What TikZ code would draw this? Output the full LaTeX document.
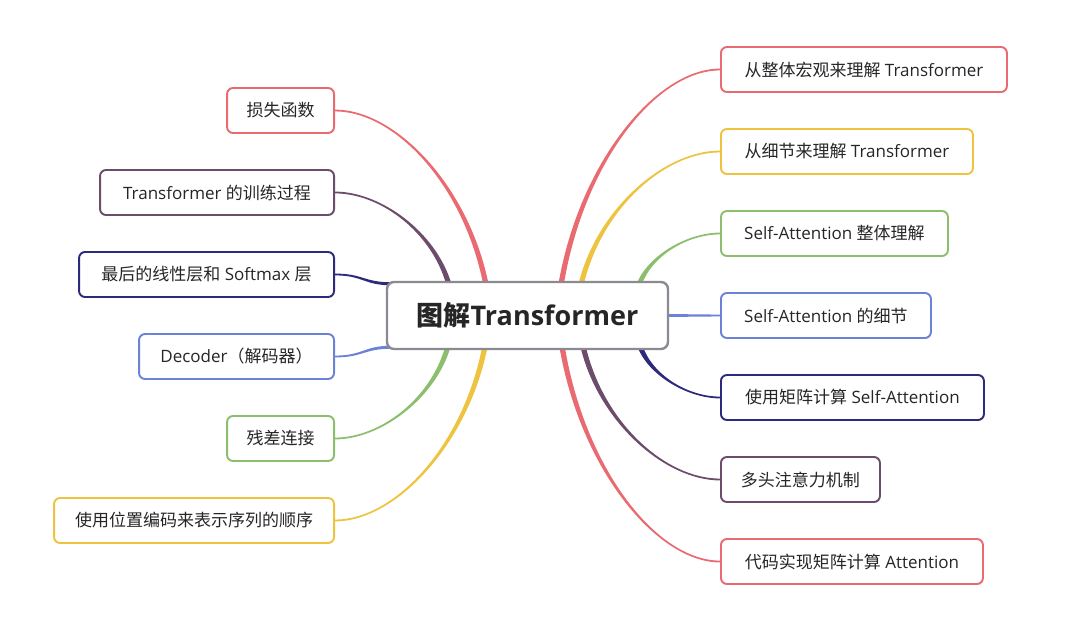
\documentclass[tikz,border=0pt]{standalone}
\usepackage{fontspec}
\setmainfont{Open Sans}
\newfontfamily\cjk{Noto Sans CJK SC}
\usetikzlibrary{calc}
\pgfdeclarelayer{bg}
\pgfsetlayers{bg,main}
\definecolor{cred}{HTML}{E96A70}
\definecolor{cyellow}{HTML}{EDC340}
\definecolor{cgreen}{HTML}{8CBF6D}
\definecolor{cblue}{HTML}{6C82D9}
\definecolor{cnavy}{HTML}{2D2A7C}
\definecolor{cpurple}{HTML}{6D4B6B}
\definecolor{cgray}{HTML}{8A8A92}
\definecolor{txt}{HTML}{262626}
\newcommand\C[1]{{\cjk #1}}
% tapered branch leaving the centre vertically, arriving horizontally
\newcommand\branch[3]{%
  \fill[#3] let \p1=(#1), \p2=(#2), \n1={sign(\x2-\x1)}, \n2={sign(\y2-\y1)} in
   ({\x1-(\n1)*2.7pt},\y1)
   .. controls ({\x1+0.13*(\x2-\x1)-(\n1)*2.5pt},{\y1+0.57*(\y2-\y1)})
   and ({\x1+0.6*(\x2-\x1)},{\y2+(\n2)*0.9pt}) .. (\x2,{\y2+(\n2)*0.9pt})
   -- (\x2,{\y2-(\n2)*0.9pt})
   .. controls ({\x1+0.6*(\x2-\x1)},{\y2-(\n2)*0.9pt})
   and ({\x1+0.13*(\x2-\x1)+(\n1)*2.5pt},{\y1+0.57*(\y2-\y1)}) .. ({\x1+(\n1)*2.7pt},\y1)
   -- cycle;}
% slightly tapered branch leaving the centre horizontally
\newcommand\hbranch[3]{%
  \fill[#3] let \p1=(#1), \p2=(#2) in
   (\x1,{\y1+1.5pt})
   .. controls ({0.5*(\x1+\x2)},{\y1+1.5pt}) and ({0.5*(\x1+\x2)},{\y2+0.9pt}) .. (\x2,{\y2+0.9pt})
   -- (\x2,{\y2-0.9pt})
   .. controls ({0.5*(\x1+\x2)},{\y2-0.9pt}) and ({0.5*(\x1+\x2)},{\y1-1.5pt}) .. (\x1,{\y1-1.5pt})
   -- cycle;}
\begin{document}
\begin{tikzpicture}[x=1pt,y=-1pt,
  leaf/.style={draw=#1, line width=1.9pt, rounded corners=6pt, fill=white,
    minimum height=45pt, inner sep=0pt, text=txt, font=\fontsize{17}{20}\selectfont},
  hub/.style={draw=cgray, line width=2.4pt, rounded corners=7pt, fill=white,
    minimum width=281pt, minimum height=67pt, inner sep=0pt, text=txt,
    font=\fontsize{27}{32}\selectfont\bfseries}]
\useasboundingbox (0,0) rectangle (1080,635);

\node[hub] (c) at (527.5,315.5) {\C{图解}Transformer};

% right side
\node[leaf=cred,    minimum width=286pt, anchor=west] (r1) at (720,69.5)  {\C{从整体宏观来理解} Transformer};
\node[leaf=cyellow, minimum width=252pt, anchor=west] (r2) at (720,151.5) {\C{从细节来理解} Transformer};
\node[leaf=cgreen,  minimum width=227pt, anchor=west] (r3) at (720,233.5) {Self-Attention \C{整体理解}};
\node[leaf=cblue,   minimum width=210pt, anchor=west] (r4) at (720,315.5) {Self-Attention \C{的细节}};
\node[leaf=cnavy,   minimum width=263pt, anchor=west] (r5) at (720,397.5) {\C{使用矩阵计算} Self-Attention};
\node[leaf=cpurple, minimum width=159pt, anchor=west] (r6) at (720,479.5) {\C{多头注意力机制}};
\node[leaf=cred,    minimum width=262pt, anchor=west] (r7) at (720,561.5) {\C{代码实现矩阵计算} Attention};

% left side
\node[leaf=cred,    minimum width=107pt, anchor=east] (l1) at (335,110.5) {\C{损失函数}};
\node[leaf=cpurple, minimum width=234pt, anchor=east] (l2) at (335,192.5) {Transformer \C{的训练过程}};
\node[leaf=cnavy,   minimum width=255pt, anchor=east] (l3) at (335,274.5) {\C{最后的线性层和} Softmax \C{层}};
\node[leaf=cblue,   minimum width=195pt, anchor=east] (l4) at (335,356.5) {Decoder\C{（解码器）}};
\node[leaf=cgreen,  minimum width=107pt, anchor=east] (l5) at (335,438.5) {\C{残差连接}};
\node[leaf=cyellow, minimum width=280pt, anchor=east] (l6) at (335,520.5) {\C{使用位置编码来表示序列的顺序}};

\begin{pgfonlayer}{bg}
\branch{[xshift=33.5pt,yshift=-4pt]c.north}{r1.west}{cred}
\branch{[xshift=53.5pt,yshift=-4pt]c.north}{r2.west}{cyellow}
\branch{[xshift=111.5pt,yshift=-4pt]c.north}{r3.west}{cgreen}
\hbranch{[xshift=-4pt]c.east}{r4.west}{cblue}
\branch{[xshift=112.5pt,yshift=4pt]c.south}{r5.west}{cnavy}
\branch{[xshift=55.5pt,yshift=4pt]c.south}{r6.west}{cpurple}
\branch{[xshift=34.5pt,yshift=4pt]c.south}{r7.west}{cred}
\branch{[xshift=-41.5pt,yshift=-4pt]c.north}{l1.east}{cred}
\branch{[xshift=-78.5pt,yshift=-4pt]c.north}{l2.east}{cpurple}
\hbranch{[xshift=6pt,yshift=-3pt]c.north west}{l3.east}{cnavy}
\hbranch{[xshift=6pt,yshift=3pt]c.south west}{l4.east}{cblue}
\branch{[xshift=-79.5pt,yshift=4pt]c.south}{l5.east}{cgreen}
\branch{[xshift=-42.5pt,yshift=4pt]c.south}{l6.east}{cyellow}
\end{pgfonlayer}
\end{tikzpicture}
\end{document}
